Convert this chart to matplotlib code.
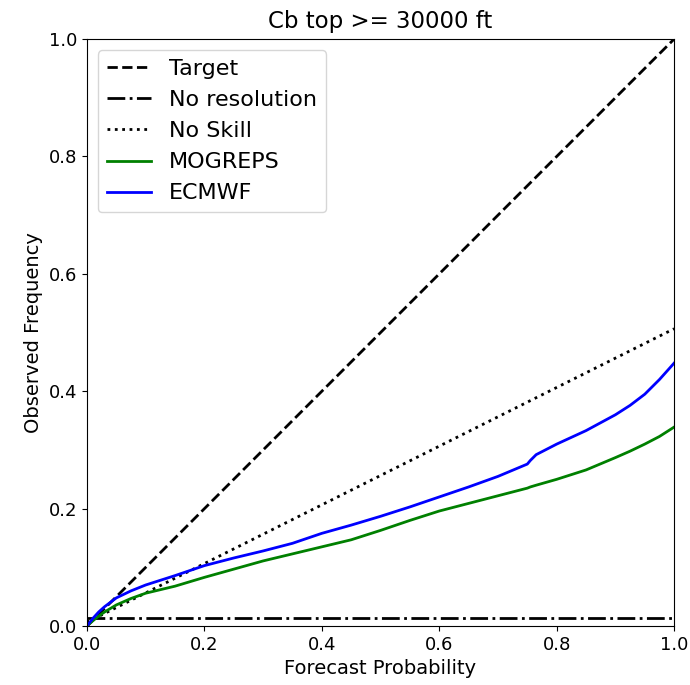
import numpy as np
import matplotlib
matplotlib.use("Agg")
import matplotlib.pyplot as plt

# Forecast probability bins and observed frequencies
prob = [0.0, 0.01, 0.02, 0.03, 0.05, 0.075, 0.1, 0.15, 0.2, 0.25, 0.3, 0.35,
        0.4, 0.45, 0.5, 0.55, 0.6, 0.65, 0.7, 0.75, 0.755, 0.765, 0.8, 0.85,
        0.9, 0.925, 0.95, 0.975, 1.0]
ecmwf = [0.0, 0.013, 0.024, 0.033, 0.048, 0.06, 0.07, 0.086, 0.103, 0.116,
         0.128, 0.141, 0.158, 0.172, 0.187, 0.203, 0.22, 0.237, 0.255, 0.276,
         0.282, 0.292, 0.31, 0.333, 0.36, 0.376, 0.395, 0.42, 0.448]
mogreps = [0.0, 0.009, 0.017, 0.024, 0.036, 0.047, 0.056, 0.068, 0.083, 0.097,
           0.111, 0.123, 0.135, 0.147, 0.163, 0.18, 0.196, 0.209, 0.222, 0.235,
           0.237, 0.24, 0.25, 0.266, 0.287, 0.298, 0.31, 0.323, 0.339]
climatology = 0.013

fig = plt.figure(figsize=(6.9, 6.85), dpi=100)
ax = fig.add_axes([0.126, 0.086, 0.851, 0.857])

ref = np.array([0.0, 1.0])
ax.plot(ref, ref, "k--", lw=2, label="Target")
ax.plot(ref, [climatology, climatology], "k-.", lw=2, label="No resolution")
ax.plot(ref, (ref + climatology) / 2, "k:", lw=2, label="No Skill")
ax.plot(prob, mogreps, color="green", lw=2, label="MOGREPS")
ax.plot(prob, ecmwf, color="blue", lw=2, label="ECMWF")

ax.set_xlim(0, 1)
ax.set_ylim(0, 1)
ax.set_xticks([0.0, 0.2, 0.4, 0.6, 0.8, 1.0])
ax.set_yticks([0.0, 0.2, 0.4, 0.6, 0.8, 1.0])
ax.tick_params(labelsize=13)
ax.set_xlabel("Forecast Probability", fontsize=14)
ax.set_ylabel("Observed Frequency", fontsize=14)
ax.set_title("Cb top >= 30000 ft", fontsize=16.5, pad=8)
ax.legend(loc="upper left", fontsize=16)

fig.savefig("out.png", dpi=100)
